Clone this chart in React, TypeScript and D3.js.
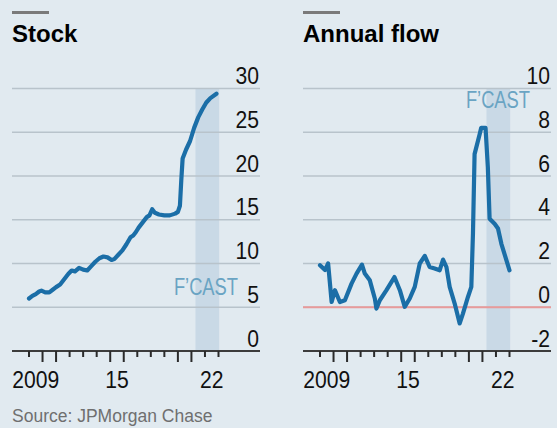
import React from "react";
import * as d3 from "d3";

// ---- Data ----
const stockYears = [2009.0, 2009.25, 2009.5, 2009.75, 2009.92, 2010.2, 2010.5, 2010.75, 2011.0, 2011.3, 2011.6, 2011.9, 2012.15, 2012.4, 2012.7, 2013.0, 2013.3, 2013.6, 2013.9, 2014.2, 2014.5, 2014.8, 2015.1, 2015.3, 2015.6, 2015.9, 2016.2, 2016.5, 2016.7, 2016.9, 2017.1, 2017.4, 2017.7, 2017.9, 2018.1, 2018.3, 2018.6, 2019.0, 2019.4, 2019.8, 2020.0, 2020.15, 2020.25, 2020.35, 2020.6, 2020.9, 2021.2, 2021.5, 2021.8, 2022.1, 2022.4, 2022.85];
const stockValues = [6.0, 6.3, 6.5, 6.8, 6.9, 6.7, 6.7, 7.0, 7.3, 7.6, 8.2, 8.8, 9.2, 9.1, 9.5, 9.3, 9.2, 9.7, 10.2, 10.6, 10.8, 10.7, 10.4, 10.5, 11.0, 11.5, 12.2, 13.0, 13.2, 13.6, 14.1, 14.7, 15.3, 15.5, 16.2, 15.8, 15.6, 15.5, 15.5, 15.7, 15.9, 16.6, 19.5, 22.0, 23.0, 24.0, 25.5, 26.7, 27.6, 28.4, 28.9, 29.4];

const flowYears = [2009.0, 2009.37, 2009.6, 2009.86, 2010.1, 2010.47, 2010.84, 2011.33, 2011.7, 2012.1, 2012.31, 2012.68, 2013.05, 2013.17, 2013.42, 2013.91, 2014.5, 2014.9, 2015.26, 2015.63, 2016.0, 2016.37, 2016.74, 2017.1, 2017.47, 2017.84, 2018.09, 2018.34, 2018.58, 2018.95, 2019.32, 2019.56, 2019.93, 2020.18, 2020.3, 2020.42, 2020.79, 2020.91, 2021.23, 2021.4, 2021.53, 2021.9, 2022.15, 2022.4, 2023.0];
const flowValues = [1.92, 1.7, 2.0, 0.24, 0.78, 0.24, 0.32, 1.08, 1.54, 1.95, 1.54, 1.23, 0.4, -0.06, 0.32, 0.78, 1.38, 0.78, 0.02, 0.4, 0.93, 2.0, 2.35, 1.84, 1.77, 1.69, 2.18, 1.84, 0.93, 0.17, -0.74, -0.29, 0.47, 0.93, 3.36, 7.0, 7.9, 8.2, 8.2, 6.4, 4.05, 3.82, 3.6, 2.9, 1.69];

const stockTicks = [0, 5, 10, 15, 20, 25, 30];
const flowTicks = [-2, 0, 2, 4, 6, 8, 10];
const tickYears = d3.range(2009, 2024);
const longTickYears = [2010, 2011, 2015, 2016, 2020, 2021];
const yearLabels = [
  { year: 2009, label: "2009" },
  { year: 2015, label: "15" },
  { year: 2022, label: "22" },
];
const forecastStart = 2021.3;
const forecastEnd = 2023.05;

// ---- Style ----
const W = 557;
const H = 428;
const BG = "#e1eaf0";
const LINE = "#1b6ea7";
const GRID = "#b8c3cb";
const SHADE = "#c9d9e6";
const FCAST = "#6aa4c3";
const FONT = "'Liberation Sans', Arial, sans-serif";

const TOP = 88.5;
const BOTTOM = 351;
const GRID_W = 248;

function CText({
  x,
  y,
  anchor,
  size,
  sx,
  fill,
  children,
}: {
  x: number;
  y: number;
  anchor: "start" | "middle" | "end";
  size: number;
  sx: number;
  fill: string;
  children: React.ReactNode;
}) {
  return (
    <text
      transform={`translate(${x},${y}) scale(${sx},1)`}
      textAnchor={anchor}
      fontFamily={FONT}
      fontSize={size}
      fill={fill}
    >
      {children}
    </text>
  );
}

type PanelProps = {
  x0: number;
  title: string;
  years: number[];
  values: number[];
  ticks: number[];
  domain: [number, number];
  fcastX: number;
  fcastY: number;
  zeroLine: boolean;
};

function Panel({ x0, title, years, values, ticks, domain, fcastX, fcastY, zeroLine }: PanelProps) {
  const x = d3.scaleLinear().domain([2009, 2023]).range([x0 + 17, x0 + 206.5]);
  const y = d3.scaleLinear().domain(domain).range([BOTTOM, TOP]);
  const pts: [number, number][] = years.map((yr, i) => [x(yr), y(values[i])]);
  const line = d3.line().curve(d3.curveLinear)(pts) || "";
  return (
    <g>
      <rect x={x0} y={11} width={37} height={3} fill="#7a7a7a" />
      <text x={x0} y={42} fontFamily={FONT} fontWeight="bold" fontSize={24} fill="#000">
        {title}
      </text>
      <rect
        x={x(forecastStart)}
        y={TOP}
        width={x(forecastEnd) - x(forecastStart)}
        height={BOTTOM - TOP}
        fill={SHADE}
      />
      {ticks.slice(1).map((t) => (
        <line key={t} x1={x0} x2={x0 + GRID_W} y1={y(t)} y2={y(t)} stroke={GRID} strokeWidth={1.6} />
      ))}
      {zeroLine && (
        <line x1={x0} x2={x0 + GRID_W} y1={y(0)} y2={y(0)} stroke="#e89a9a" strokeWidth={2} />
      )}
      {ticks.map((t) => (
        <CText key={"l" + t} x={x0 + GRID_W - 1} y={y(t) - 4.5} anchor="end" size={24} sx={0.88} fill="#111">
          {t < 0 ? "-" + Math.abs(t) : t}
        </CText>
      ))}
      <CText x={fcastX} y={fcastY} anchor="end" size={23.5} sx={0.78} fill={FCAST}>
        F’CAST
      </CText>
      <path d={line} fill="none" stroke={LINE} strokeWidth={4.2} strokeLinejoin="round" strokeLinecap="round" />
      <line x1={x0} x2={x0 + GRID_W} y1={BOTTOM} y2={BOTTOM} stroke="#3c3c3c" strokeWidth={1.8} />
      {tickYears.map((yr) => (
        <line
          key={"t" + yr}
          x1={x(yr)}
          x2={x(yr)}
          y1={BOTTOM}
          y2={BOTTOM + (longTickYears.includes(yr) ? 11 : 6)}
          stroke="#2a2a2a"
          strokeWidth={2}
        />
      ))}
      {yearLabels.map((d) => (
        <CText key={"y" + d.year} x={x(d.year + 0.5)} y={388} anchor="middle" size={24} sx={0.88} fill="#111">
          {d.label}
        </CText>
      ))}
    </g>
  );
}

export default function App() {
  return (
    <svg
      width={W}
      height={H}
      style={{ position: "absolute", left: 0, top: 0, background: BG }}
    >
      <rect x={0} y={0} width={W} height={H} fill={BG} />
      <Panel
        x0={12}
        title="Stock"
        years={stockYears}
        values={stockValues}
        ticks={stockTicks}
        domain={[0, 30]}
        fcastX={238}
        fcastY={295}
        zeroLine={false}
      />
      <Panel
        x0={303}
        title="Annual flow"
        years={flowYears}
        values={flowValues}
        ticks={flowTicks}
        domain={[-2, 10]}
        fcastX={530}
        fcastY={108}
        zeroLine={true}
      />
      <text x={12} y={422} fontFamily={FONT} fontSize={17.5} fill="#6f6f6f">
        Source: JPMorgan Chase
      </text>
    </svg>
  );
}
